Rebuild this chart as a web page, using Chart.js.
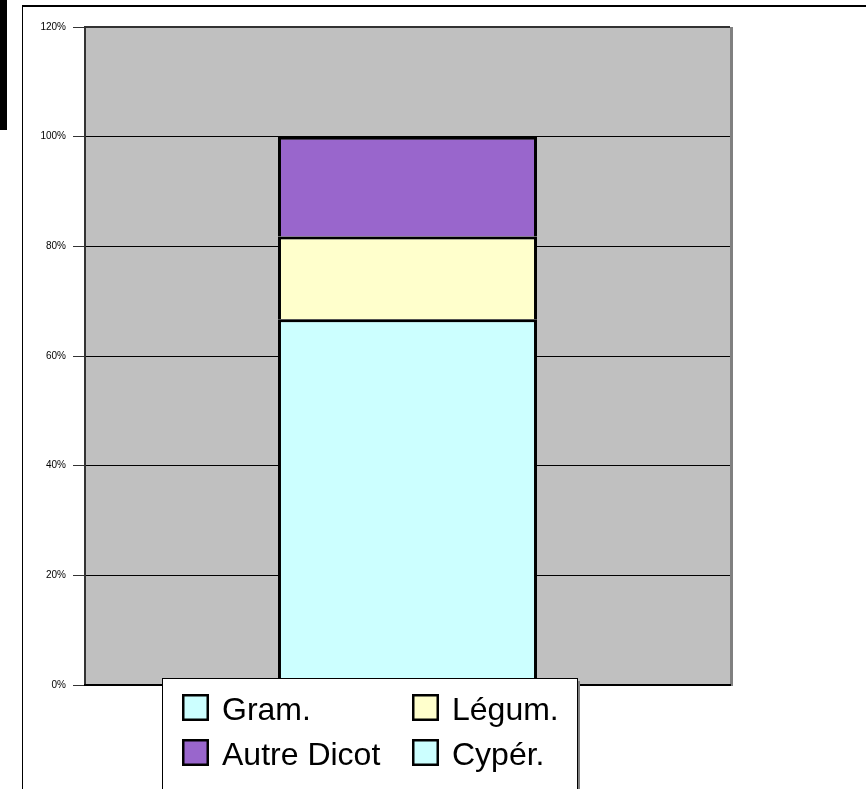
<!DOCTYPE html>
<html>
<head>
<meta charset="utf-8">
<script src="https://cdn.jsdelivr.net/npm/chart.js@4"></script>
<style>
  html, body { margin: 0; padding: 0; background: #fff; overflow: hidden; }
  #wrap { position: relative; width: 866px; height: 789px; }
  #blackTab { position: absolute; left: 0; top: 0; width: 7px; height: 130px; background: #000; }
  #frame { position: absolute; left: 22px; top: 5px; width: 900px; height: 900px;
           border-left: 1px solid #000; border-top: 2px solid #000; box-shadow: -1px 0 0 #aaa inset; }
  canvas { position: absolute; left: 0; top: 0; }
</style>
</head>
<body>
<div id="wrap">
  <div id="blackTab"></div>
  <div id="frame"></div>
  <canvas id="chart" width="866" height="789"></canvas>
</div>
<script>
const categories = [''];
const seriesNames = ['Gram.', 'Légum.', 'Autre Dicot', 'Cypér.'];
const gram = [66.7];
const legum = [15.1];
const autreDicot = [18.2];
const cyper = [0];
const seriesColors = ['#CCFFFF', '#FFFFCC', '#9966CC', '#CCFFFF'];
const yMax = 120;
const yStep = 20;

const ctx = document.getElementById('chart').getContext('2d');

// gray plot area with excel-like borders
const plotBack = {
    id: 'plotBack',
    beforeDraw(chart) {
        const { ctx, chartArea: a } = chart;
        ctx.save();
        ctx.fillStyle = '#C0C0C0';
        ctx.fillRect(a.left, a.top, a.right - a.left, a.bottom - a.top);
        ctx.restore();
    },
    afterDatasetsDraw(chart) {
        const { ctx, chartArea: a } = chart;
        ctx.save();
        // right shadow
        ctx.fillStyle = '#808080';
        ctx.fillRect(a.right, a.top, 3, a.bottom - a.top + 1);
        // top edge
        ctx.fillStyle = '#333';
        ctx.fillRect(a.left - 1, a.top - 1, a.right - a.left + 1, 2);
        // bottom axis line
        ctx.fillStyle = '#000';
        ctx.fillRect(a.left - 1, a.bottom - 1, a.right - a.left + 2, 2);
        ctx.restore();
    }
};

// boxed legend in two columns, like the original sheet
const boxLegend = {
    id: 'boxLegend',
    afterDraw(chart) {
        const { ctx } = chart;
        const x0 = 162, y0 = 678, w = 415, h = 130;
        ctx.save();
        ctx.fillStyle = '#808080';
        ctx.fillRect(x0 + w, y0 + 3, 3, h);
        ctx.fillStyle = '#fff';
        ctx.fillRect(x0, y0, w, h);
        ctx.strokeStyle = '#000';
        ctx.lineWidth = 1;
        ctx.strokeRect(x0 + 0.5, y0 + 0.5, w, h);
        const cols = [182, 412];
        const rows = [694, 739];
        ctx.font = '32px "Liberation Sans", Arial, sans-serif';
        ctx.textBaseline = 'alphabetic';
        chart.data.datasets.forEach((ds, i) => {
            const bx = cols[i % 2], by = rows[Math.floor(i / 2)];
            ctx.fillStyle = ds.backgroundColor;
            ctx.fillRect(bx, by, 26, 26);
            ctx.strokeStyle = '#000';
            ctx.lineWidth = 2.5;
            ctx.strokeRect(bx + 1.25, by + 1.25, 24.5, 24.5);
            ctx.fillStyle = '#000';
            ctx.fillText(ds.label, bx + 40, by + 26);
        });
        ctx.restore();
    }
};

const data = {
    labels: categories,
    datasets: [gram, legum, autreDicot, cyper].map((vals, i) => ({
        label: seriesNames[i],
        data: vals,
        backgroundColor: seriesColors[i],
        borderColor: '#000',
        borderWidth: { top: 3, left: 3, right: 3, bottom: 0 },
        borderSkipped: false,
        categoryPercentage: 1,
        barPercentage: 0.4016
    }))
};

new Chart(ctx, {
    type: 'bar',
    data: data,
    options: {
        responsive: false,
        animation: false,
        layout: { padding: { left: 0, top: 27, right: 136, bottom: 104 } },
        scales: {
            x: {
                stacked: true,
                display: false
            },
            y: {
                stacked: true,
                min: 0,
                max: yMax,
                afterFit: s => { s.width = 85; },
                ticks: {
                    stepSize: yStep,
                    padding: 7,
                    color: '#000',
                    font: { family: '"Liberation Sans", Arial, sans-serif', size: 10 },
                    callback: v => v + '%'
                },
                grid: { color: '#000', lineWidth: 1, tickLength: 12, tickColor: '#333' },
                border: { display: true, color: '#333', width: 2 }
            }
        },
        plugins: {
            legend: { display: false },
            tooltip: { enabled: false }
        }
    },
    plugins: [plotBack, boxLegend]
});
</script>
</body>
</html>
